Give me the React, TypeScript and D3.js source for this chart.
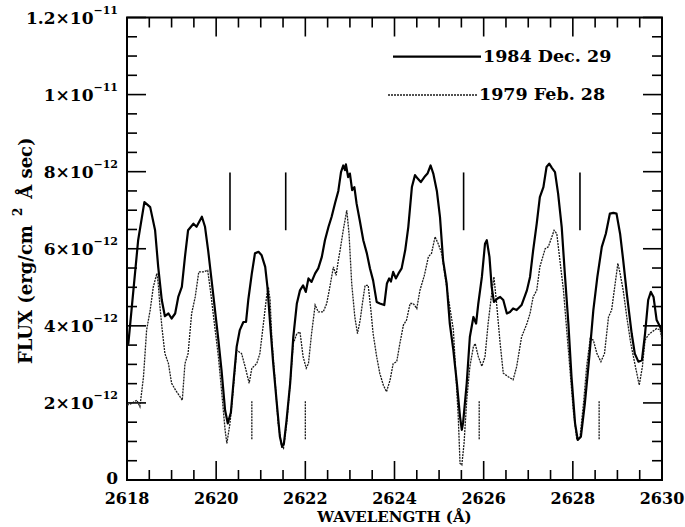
import React from "react";
import * as d3 from "d3";

// Flux values are given in units of 1e-12 erg/cm^2/Å/sec
const FLUX_UNIT = 1e-12;

// 1984 Dec. 29 spectrum: [wavelength (Å), flux]
const dec1984: [number, number][] = [
  [2618.0, 3.5], [2618.03, 3.54], [2618.25, 6.22], [2618.39, 7.21], [2618.45, 7.15],
  [2618.52, 7.08], [2618.63, 6.48], [2618.7, 5.53], [2618.78, 4.67], [2618.85, 4.25],
  [2618.93, 4.32], [2619.0, 4.19], [2619.08, 4.32], [2619.15, 4.75], [2619.23, 5.01],
  [2619.3, 5.79], [2619.37, 6.48], [2619.49, 6.65], [2619.56, 6.57], [2619.68, 6.83],
  [2619.75, 6.57], [2619.82, 5.96], [2619.94, 4.75], [2620.05, 3.63], [2620.12, 2.85],
  [2620.2, 1.81], [2620.26, 1.47], [2620.33, 1.75], [2620.38, 2.42], [2620.46, 3.46],
  [2620.53, 3.89], [2620.61, 4.1], [2620.67, 4.1], [2620.72, 4.67], [2620.8, 5.36],
  [2620.87, 5.88], [2620.95, 5.92], [2621.02, 5.83], [2621.1, 5.53], [2621.15, 5.01],
  [2621.21, 4.06], [2621.28, 3.02], [2621.36, 1.99], [2621.43, 1.12], [2621.48, 0.86],
  [2621.52, 0.95], [2621.58, 1.56], [2621.66, 2.51], [2621.73, 3.71], [2621.81, 4.58],
  [2621.88, 4.92], [2621.95, 5.05], [2622.01, 4.88], [2622.07, 5.23], [2622.14, 5.14],
  [2622.22, 5.36], [2622.29, 5.49], [2622.37, 5.79], [2622.44, 6.22], [2622.52, 6.57],
  [2622.59, 6.83], [2622.67, 7.2], [2622.74, 7.5], [2622.8, 7.99], [2622.85, 8.16],
  [2622.89, 8.04], [2622.91, 8.19], [2622.96, 7.86], [2623.0, 7.95], [2623.05, 7.52],
  [2623.1, 7.6], [2623.15, 7.17], [2623.22, 6.74], [2623.3, 6.22], [2623.38, 5.88],
  [2623.45, 5.49], [2623.52, 5.18], [2623.6, 4.62], [2623.67, 4.58], [2623.77, 4.54],
  [2623.83, 5.1], [2623.88, 5.23], [2623.92, 5.15], [2623.97, 5.4], [2624.03, 5.23],
  [2624.09, 5.36], [2624.16, 5.49], [2624.24, 5.96], [2624.31, 6.57], [2624.39, 7.6],
  [2624.46, 7.91], [2624.52, 7.82], [2624.59, 7.73], [2624.67, 7.86], [2624.74, 7.95],
  [2624.81, 8.16], [2624.87, 7.95], [2624.95, 7.5], [2625.02, 6.83], [2625.09, 5.7],
  [2625.17, 5.1], [2625.24, 4.06], [2625.32, 3.37], [2625.4, 2.51], [2625.47, 1.64],
  [2625.51, 1.3], [2625.54, 1.5], [2625.62, 2.51], [2625.69, 3.71], [2625.77, 4.23],
  [2625.83, 4.06], [2625.88, 4.58], [2625.96, 5.27], [2626.03, 6.13], [2626.07, 6.22],
  [2626.13, 5.79], [2626.18, 5.01], [2626.23, 4.62], [2626.31, 4.71], [2626.37, 4.75],
  [2626.44, 4.67], [2626.52, 4.32], [2626.59, 4.36], [2626.66, 4.45], [2626.74, 4.41],
  [2626.85, 4.54], [2626.97, 4.92], [2627.04, 5.27], [2627.11, 5.96], [2627.19, 6.65],
  [2627.26, 7.34], [2627.34, 7.6], [2627.41, 8.12], [2627.47, 8.21], [2627.53, 8.1],
  [2627.6, 7.99], [2627.67, 7.43], [2627.75, 6.57], [2627.82, 5.36], [2627.9, 4.06],
  [2627.97, 2.68], [2628.05, 1.47], [2628.11, 1.04], [2628.18, 1.12], [2628.27, 1.99],
  [2628.37, 3.2], [2628.46, 4.41], [2628.55, 5.27], [2628.65, 6.05], [2628.74, 6.39],
  [2628.83, 6.91], [2628.91, 6.93], [2628.98, 6.91], [2629.06, 6.39], [2629.13, 5.7],
  [2629.21, 4.84], [2629.32, 3.8], [2629.39, 3.28], [2629.47, 3.07], [2629.55, 3.11],
  [2629.62, 3.8], [2629.69, 4.67], [2629.75, 4.88], [2629.81, 4.75], [2629.88, 4.15],
  [2629.96, 3.97], [2630.0, 3.85],
];

// 1979 Feb. 28 spectrum: [wavelength (Å), flux]
const feb1979: [number, number][] = [
  [2618.0, 1.94], [2618.11, 1.99], [2618.22, 2.07], [2618.29, 1.9], [2618.37, 2.68],
  [2618.44, 3.89], [2618.52, 4.41], [2618.59, 5.01], [2618.67, 5.36], [2618.7, 5.1],
  [2618.74, 4.49], [2618.79, 3.89], [2618.85, 3.28], [2618.93, 3.02], [2619.0, 2.51],
  [2619.09, 2.33], [2619.19, 2.16], [2619.24, 2.07], [2619.3, 3.02], [2619.37, 3.28],
  [2619.45, 4.32], [2619.53, 4.75], [2619.61, 5.4], [2619.71, 5.4], [2619.81, 5.44],
  [2619.88, 4.84], [2619.96, 4.06], [2620.05, 3.2], [2620.12, 2.33], [2620.2, 1.3],
  [2620.24, 0.95], [2620.31, 1.47], [2620.38, 2.33], [2620.46, 3.37], [2620.57, 3.28],
  [2620.65, 2.94], [2620.74, 2.51], [2620.8, 2.9], [2620.91, 3.02], [2620.98, 3.28],
  [2621.06, 4.06], [2621.13, 4.75], [2621.17, 5.01], [2621.21, 4.67], [2621.25, 3.63],
  [2621.32, 2.59], [2621.39, 1.47], [2621.47, 0.86], [2621.51, 0.82], [2621.58, 1.47],
  [2621.66, 2.51], [2621.73, 3.54], [2621.81, 3.8], [2621.88, 3.84], [2621.95, 3.2],
  [2622.02, 2.9], [2622.07, 3.02], [2622.14, 3.8], [2622.22, 4.54], [2622.29, 4.36],
  [2622.4, 4.36], [2622.48, 4.58], [2622.55, 5.01], [2622.63, 5.53], [2622.69, 5.31],
  [2622.74, 5.7], [2622.78, 5.96], [2622.85, 6.48], [2622.93, 7.0], [2622.98, 6.39],
  [2623.04, 5.1], [2623.11, 4.23], [2623.17, 3.8], [2623.23, 4.15], [2623.28, 4.58],
  [2623.34, 5.05], [2623.41, 5.05], [2623.47, 4.41], [2623.52, 3.8], [2623.6, 3.2],
  [2623.67, 2.77], [2623.75, 2.46], [2623.82, 2.29], [2623.9, 2.59], [2623.97, 3.02],
  [2624.05, 3.07], [2624.12, 3.54], [2624.2, 4.02], [2624.27, 4.15], [2624.35, 4.58],
  [2624.42, 4.58], [2624.5, 4.45], [2624.57, 4.92], [2624.67, 5.31], [2624.76, 5.79],
  [2624.83, 5.88], [2624.91, 6.31], [2624.98, 6.13], [2625.06, 5.88], [2625.17, 5.0],
  [2625.32, 3.9], [2625.43, 1.64], [2625.47, 0.43], [2625.51, 0.39], [2625.56, 0.95],
  [2625.62, 2.07], [2625.69, 2.94], [2625.77, 3.46], [2625.81, 3.54], [2625.88, 3.2],
  [2625.96, 2.95], [2626.03, 3.2], [2626.1, 4.06], [2626.18, 4.84], [2626.23, 5.27],
  [2626.29, 4.58], [2626.37, 3.54], [2626.44, 2.77], [2626.55, 2.68], [2626.66, 2.6],
  [2626.74, 2.94], [2626.85, 3.71], [2626.97, 4.06], [2627.04, 4.32], [2627.11, 4.75],
  [2627.19, 4.92], [2627.26, 5.53], [2627.38, 6.0], [2627.45, 6.05], [2627.53, 6.31],
  [2627.58, 6.48], [2627.64, 6.39], [2627.71, 5.7], [2627.79, 4.92], [2627.9, 3.37],
  [2628.01, 1.81], [2628.09, 1.04], [2628.16, 1.1], [2628.24, 1.99], [2628.31, 2.94],
  [2628.39, 3.67], [2628.46, 3.63], [2628.54, 3.28], [2628.63, 3.07], [2628.71, 3.28],
  [2628.8, 4.23], [2628.87, 4.41], [2628.95, 5.1], [2629.01, 5.62], [2629.06, 5.36],
  [2629.13, 4.92], [2629.21, 4.23], [2629.3, 3.54], [2629.39, 3.02], [2629.49, 2.46],
  [2629.56, 2.94], [2629.62, 3.63], [2629.69, 3.76], [2629.77, 3.84], [2629.88, 3.93],
  [2629.96, 3.89], [2630.0, 3.63],
];

// Line identification marks
const solidMarks = [2620.31, 2621.56, 2625.55, 2628.16];
const solidMarkRange: [number, number] = [6.48, 7.98];
const dottedMarks = [2620.8, 2622.0, 2625.9, 2628.59];
const dottedMarkRange: [number, number] = [1.06, 2.05];

// Axis ticks
const xMajorTicks = [2618, 2620, 2622, 2624, 2626, 2628, 2630];
const xTickLabels = ["2618", "2620", "2622", "2624", "2626", "2628", "2630"];
const yMajorTicks = [0, 2, 4, 6, 8, 10, 12];
const yTickMantissas = ["0", "2", "4", "6", "8", "1", "1.2"];
const yTickExponents = ["", "−12", "−12", "−12", "−12", "−11", "−11"];

const seriesNames = ["1984 Dec. 29", "1979 Feb. 28"];

const FONT = "'DejaVu Serif', serif";

export default function App() {
  const left = 127, right = 662, top = 17.5, bottom = 480;
  const x = d3.scaleLinear().domain([2618, 2630]).range([left, right]);
  const y = d3.scaleLinear().domain([0, 12 * FLUX_UNIT]).range([bottom, top]);

  const line = d3
    .line<[number, number]>()
    .x((d) => x(d[0]))
    .y((d) => y(d[1] * FLUX_UNIT));

  const xMinor = d3.range(2618, 2630.001, 0.5).filter((v) => Math.abs(v % 2) > 1e-6);
  const yMinor = d3.range(0, 12.001, 0.5).filter((v) => Math.abs(v % 2) > 1e-6);

  const majorLen = 19, minorLen = 10;
  const tickStroke = 1.6;
  const dotted = "2,1";

  return (
    <svg
      width={685}
      height={527}
      style={{ position: "absolute", left: 0, top: 0, background: "#fff" }}
      fontFamily={FONT}
    >
      <rect x={0} y={0} width={685} height={527} fill="#fff" />

      {/* ticks on all four sides, pointing inward */}
      <g stroke="#000" strokeWidth={tickStroke}>
        {xMajorTicks.map((v) => (
          <g key={"xM" + v}>
            <line x1={x(v)} x2={x(v)} y1={bottom} y2={bottom - majorLen} />
            <line x1={x(v)} x2={x(v)} y1={top} y2={top + majorLen} />
          </g>
        ))}
        {xMinor.map((v) => (
          <g key={"xm" + v}>
            <line x1={x(v)} x2={x(v)} y1={bottom} y2={bottom - minorLen} />
            <line x1={x(v)} x2={x(v)} y1={top} y2={top + minorLen} />
          </g>
        ))}
        {yMajorTicks.map((v) => (
          <g key={"yM" + v}>
            <line x1={left} x2={left + majorLen} y1={y(v * FLUX_UNIT)} y2={y(v * FLUX_UNIT)} />
            <line x1={right} x2={right - majorLen} y1={y(v * FLUX_UNIT)} y2={y(v * FLUX_UNIT)} />
          </g>
        ))}
        {yMinor.map((v) => (
          <g key={"ym" + v}>
            <line x1={left} x2={left + minorLen} y1={y(v * FLUX_UNIT)} y2={y(v * FLUX_UNIT)} />
            <line x1={right} x2={right - minorLen} y1={y(v * FLUX_UNIT)} y2={y(v * FLUX_UNIT)} />
          </g>
        ))}
      </g>

      {/* frame */}
      <rect
        x={left}
        y={top}
        width={right - left}
        height={bottom - top}
        fill="none"
        stroke="#000"
        strokeWidth={2}
      />

      {/* spectra */}
      <path d={line(feb1979) || ""} fill="none" stroke="#1a1a1a" strokeWidth={1.3} strokeDasharray={dotted} />
      <path d={line(dec1984) || ""} fill="none" stroke="#000" strokeWidth={2.2} strokeLinejoin="round" />

      {/* line identification marks */}
      {solidMarks.map((v) => (
        <line
          key={"sm" + v}
          x1={x(v)}
          x2={x(v)}
          y1={y(solidMarkRange[0] * FLUX_UNIT)}
          y2={y(solidMarkRange[1] * FLUX_UNIT)}
          stroke="#000"
          strokeWidth={1.6}
        />
      ))}
      {dottedMarks.map((v) => (
        <line
          key={"dm" + v}
          x1={x(v)}
          x2={x(v)}
          y1={y(dottedMarkRange[0] * FLUX_UNIT)}
          y2={y(dottedMarkRange[1] * FLUX_UNIT)}
          stroke="#1a1a1a"
          strokeWidth={1.3}
          strokeDasharray={dotted}
        />
      ))}

      {/* y tick labels */}
      {yMajorTicks.map((v, i) => (
        <text
          key={"yl" + v}
          x={118}
          y={y(v * FLUX_UNIT) + (v === 0 ? 4 : 6)}
          textAnchor="end"
          fontSize={17}
          fontWeight="bold"
        >
          {yTickMantissas[i]}
          {yTickExponents[i] ? "×10" : ""}
          {yTickExponents[i] ? (
            <tspan fontSize={11} dy={-10}>
              {yTickExponents[i]}
            </tspan>
          ) : null}
        </text>
      ))}

      {/* x tick labels */}
      {xMajorTicks.map((v, i) => (
        <text key={"xl" + v} x={x(v)} y={503.5} textAnchor="middle" fontSize={16} fontWeight="bold">
          {xTickLabels[i]}
        </text>
      ))}

      {/* axis titles */}
      <text x={(left + right) / 2} y={521.5} textAnchor="middle" fontSize={15} fontWeight="bold">
        WAVELENGTH (Å)
      </text>
      <text
        transform={`translate(32, ${(top + bottom) / 2 + 2}) rotate(-90)`}
        textAnchor="middle"
        fontSize={18}
        fontWeight="bold"
      >
        FLUX (erg/cm
        <tspan fontSize={12} dy={-10} dx={9}>2</tspan>
        <tspan dy={10} dx={9}>Å sec)</tspan>
      </text>

      {/* legend */}
      <line x1={393} x2={481} y1={56.7} y2={56.7} stroke="#000" strokeWidth={2.2} />
      <text x={483} y={62} fontSize={17.5} fontWeight="bold">
        {seriesNames[0]}
      </text>
      <line x1={388} x2={477} y1={95} y2={95} stroke="#1a1a1a" strokeWidth={1.3} strokeDasharray={dotted} />
      <text x={479} y={100} fontSize={17.5} fontWeight="bold">
        {seriesNames[1]}
      </text>
    </svg>
  );
}
